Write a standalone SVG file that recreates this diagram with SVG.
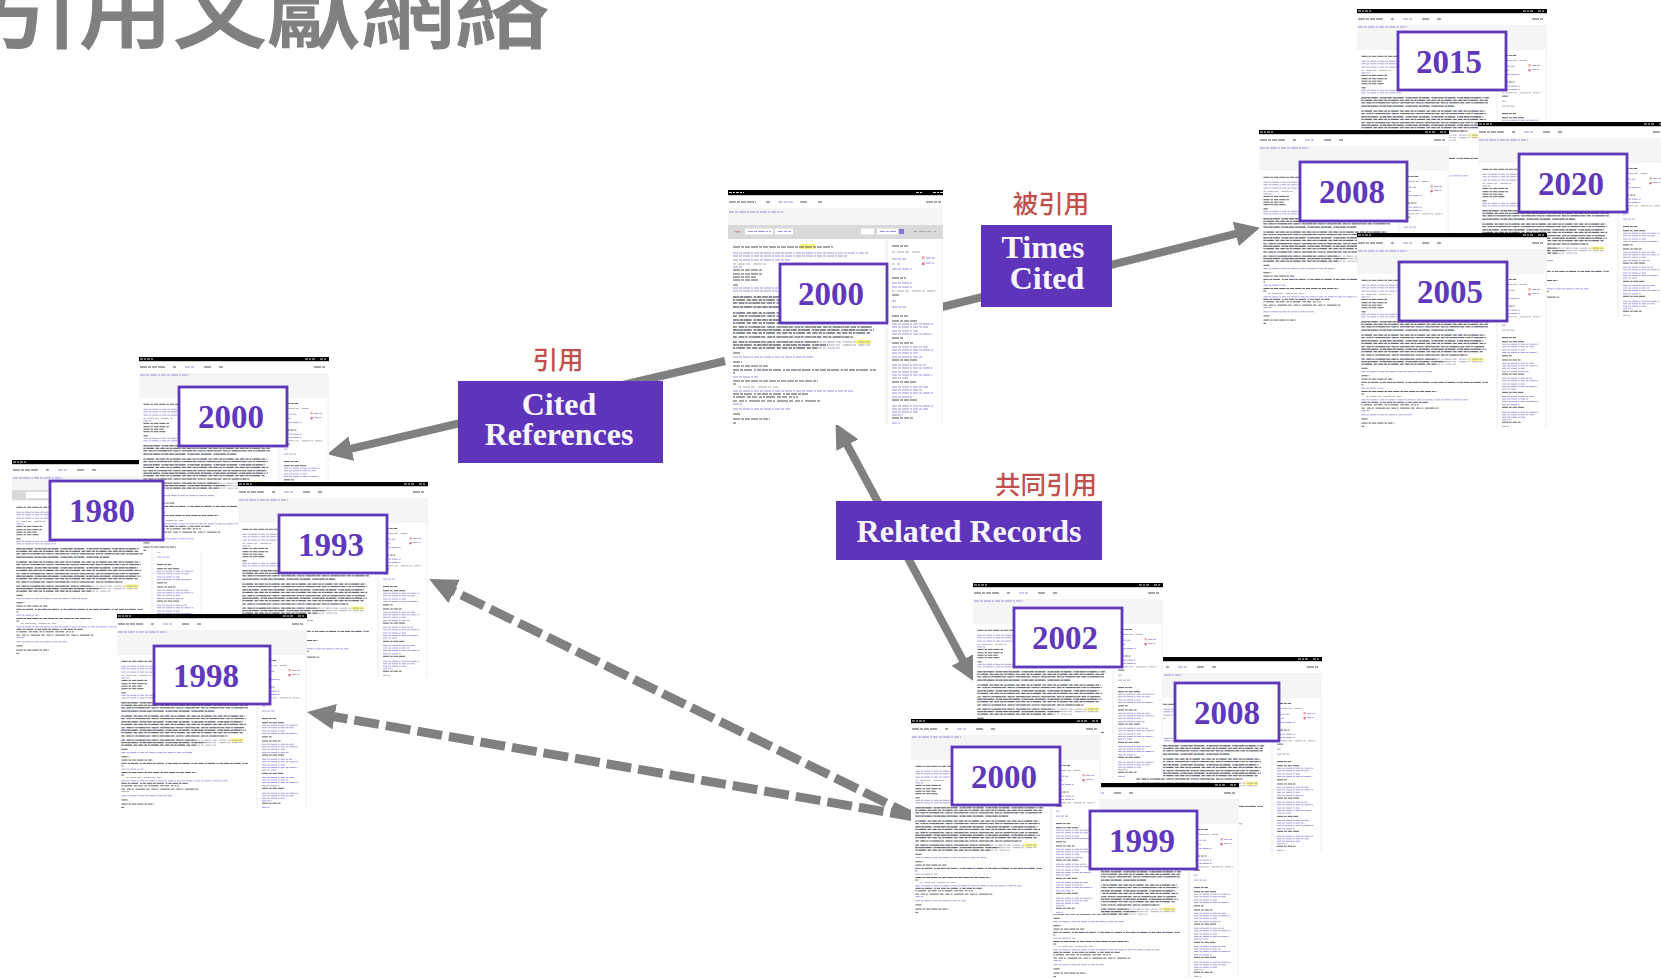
<svg xmlns="http://www.w3.org/2000/svg" xmlns:xlink="http://www.w3.org/1999/xlink" width="1661" height="979" viewBox="0 0 1661 979">
<style>
text{font-family:"Liberation Serif","Noto Sans CJK TC",serif}
.year{font-size:33px;font-weight:700;fill:#6038bb;text-anchor:middle}
.yb{fill:#fff;stroke:#6038bb;stroke-width:2.8}
.tag{fill:#5e34bb}
.tt{font-size:32px;font-weight:700;fill:#f8f6fc;text-anchor:middle}
.red{font-family:"Noto Sans CJK TC","Noto Sans CJK SC",sans-serif;font-size:25.5px;font-weight:500;fill:#c0504d;text-anchor:middle}
.title{font-family:"Noto Sans CJK TC","Noto Sans CJK SC",sans-serif;font-size:94px;font-weight:500;fill:#808080;stroke:#808080;stroke-width:1.2}
.line{fill:none;stroke:#808080;stroke-width:8}
.dash{fill:none;stroke:#808080;stroke-width:9;stroke-dasharray:25 7}
.d1{fill:none;stroke:#3a3a44;stroke-width:.95;stroke-dasharray:6 1 3 1 8 2 2 1 4 1}
.d2{fill:none;stroke:#44444c;stroke-width:.95;stroke-dasharray:2 1 9 2 4 1 5 2 3 1}
.d3{fill:none;stroke:#4c4c50;stroke-width:.95;stroke-dasharray:4 2 5 1 2 2 11 1}
.m{fill:none;stroke:#a4a4b4;stroke-width:.95;stroke-dasharray:3 2 7 1 4 3 9 1}
.o{fill:none;stroke:#c8a878;stroke-width:.8;stroke-dasharray:2 13 1 21}
.b{fill:none;stroke:#7f9fd8;stroke-width:.8;stroke-dasharray:3 9 2 17}
.p{fill:none;stroke:#9a88d8;stroke-width:.95;stroke-dasharray:5 1 3 1 7 1 2 1}
.k{fill:none;stroke:#555;stroke-width:1.05;stroke-dasharray:7 1 3 1 5 1}
.w{fill:none;stroke:#ddd;stroke-width:1;stroke-dasharray:3 1 2 1}
.soft{filter:url(#soft)}
</style>
<defs>
<filter id="soft" x="-2%" y="-2%" width="104%" height="104%"><feGaussianBlur stdDeviation="0.35"/></filter>
<marker id="head" markerUnits="userSpaceOnUse" markerWidth="26" markerHeight="26" refX="12" refY="13" orient="auto-start-reverse" viewBox="0 0 26 26"><path d="M0 0.500L25 13L0 25.500Z" fill="#808080"/></marker>
<marker id="headd" markerUnits="userSpaceOnUse" markerWidth="28" markerHeight="28" refX="14" refY="14" orient="auto" viewBox="0 0 28 28"><path d="M0 1L28 14L0 27Z" fill="#808080"/></marker>
<g id="content">
<rect x="157" y="50" width="3" height="185" fill="#f6f6f6"/>
<rect x="213" y="50" width="2" height="185" fill="#f6f6f6"/>
<rect x="72" y="54" width="15" height="5" fill="#fdf67a"/>
<rect x="128" y="150" width="15" height="4" fill="#fdf67a"/>
<rect x="194" y="66.500" width="2.500" height="2.500" fill="#ec9a8e"/>
<rect x="194" y="72.500" width="2.500" height="2.500" fill="#e0607a"/>
<path class="k" d="M5 57H105M5 80H35M5 84H35M5 87H28M5 90H30M5 95H10M5 163H12M5 172H14M5 176H40M5 191H90M5 194H8M5 224H12M5 229H42M5 233H8M164 56H180M164 88H178M164 105H172M164 126H180M164 131H190M164 148H175M164 153H185M164 170H190M164 192H188M164 210H190M164 228H185"/>
<path class="p" d="M5 63H140M5 66H120M5 70H62M5 77H14M5 98H50M5 101H50M5 167H85M5 187H30M5 201H125M5 214H14M5 219H62M164 69H178M164 79H185M164 93H185M164 97H185M164 111H168M164 117H178M164 134H205M164 137H200M164 141H190M164 144H204M164 157H200M164 160H205M164 163H190M164 167H195M164 175H198M164 178H205M164 182H190M164 185H204M164 188H180M164 197H200M164 200H195M164 203H205M164 207H185M164 216H205M164 219H200M164 222H190M164 225H175M164 233H172M198 68H208M198 73H206"/>
<path class="m" d="M5 107H150M5 110H148M5 113H148M5 117H110M5 123H145M5 126H146M5 130H143M5 133H146M5 137H145M5 140H146M5 143H142M5 147H125M5 152H142M5 155H142M5 158H115M10 197H50M5 74H40M164 62H192M164 74H172M164 101H208"/>
<path class="d1" d="M5 107H150M5 117H110M5 130H143M5 140H146M5 155H100M5 180H148M5 204H80"/>
<path class="d2" d="M5 110H148M5 123H145M5 133H146M5 143H142M5 158H90M5 183H8M5 207H70"/>
<path class="d3" d="M5 113H148M5 126H146M5 137H145M5 147H125M5 152H90M5 211H92"/>
<path class="o" d="M8 110H148M12 126H146M6 137H145M10 147H125M7 155H142"/>
<path class="b" d="M7 113H148M11 123H145M9 140H146M6 152H128M12 117H110M7 180H148"/>
</g>
<g id="thumb">
<rect width="190" height="195" fill="#fff"/>
<rect y="16" width="190" height="25" fill="#f5f5f5"/>
<rect width="190" height="4.200" fill="#000"/>
<path class="w" d="M1 2H14M166 2H176M181 2H188"/>
<path class="k" d="M1 10H26M34 10H37M65 10H72M80 10H84M175 10H187"/>
<path class="p" d="M46 10H56M1 18H50"/>
<use xlink:href="#content" href="#content" transform="scale(.884 .83)"/>
</g>
</defs>

<text class="title" id="title" x="-15" y="41">引用文獻網絡</text>

<g id="connectors">
<path class="line" d="M725 361L339.7 451.3" marker-end="url(#head)"/>
<path class="line" d="M942 307L1247.4 230.9" marker-end="url(#head)"/>
<path class="line" d="M841.7 434.6L968.3 670.4" marker-start="url(#head)" marker-end="url(#head)"/>
<path class="dash" d="M915 817L441.6 585.2" marker-end="url(#headd)"/>
<path class="dash" d="M915 817L320.8 714.4" marker-end="url(#headd)"/>
</g>

<g id="center-2000">
<g class="soft" transform="translate(728 190)">
<rect width="215" height="235" fill="#fff"/>
<rect y="18" width="215" height="17" fill="#f5f5f5"/>
<rect y="35" width="215" height="14" fill="#d9d9d9"/>
<rect x="17" y="38.500" width="28" height="6" fill="#fff"/>
<rect x="47" y="38.500" width="18" height="6" fill="#fff"/>
<rect x="133" y="38.500" width="13" height="6" fill="#fff"/>
<rect x="149" y="38.500" width="21" height="6" fill="#fff"/>
<rect x="171" y="39" width="5" height="5" fill="#8a6fe0"/>
<rect x="7" y="41" width="5" height="1.500" fill="#c99"/>
<rect width="215" height="5.200" fill="#000"/>
<path class="w" d="M1 2.500H16M188 2.500H195M205 2.500H215"/>
<path class="k" d="M1 12H28M38 12H42M72 12H80M90 12H94M198 12H213"/>
<path class="p" d="M50 12H65M1 22H55M20 41.500H43M50 41.500H63M152 41.500H168"/>
<path class="m" d="M186 41.500H208"/>
<use xlink:href="#content" href="#content"/>
</g>
<rect class="yb" x="780" y="264" width="107" height="59"/>
<text class="year" x="831" y="305">2000</text>
</g>

<g id="times-cited"><rect class="tag" x="981" y="225" width="131" height="82"/><text class="tt" x="1043" y="258">Times</text><text class="tt" x="1047" y="289">Cited</text></g>
<text class="red" id="label-times-cited" x="1051" y="213">被引用</text>
<g id="cited-references"><rect class="tag" x="458" y="381" width="205" height="82"/><text class="tt" x="559" y="415">Cited</text><text class="tt" x="559" y="445">References</text></g>
<text class="red" id="label-cited" x="558" y="369">引用</text>
<g id="related-records"><rect class="tag" x="836" y="501" width="266" height="59"/><text class="tt" x="969" y="542">Related Records</text></g>
<text class="red" id="label-related" x="1046" y="494">共同引用</text>

<g id="ref-thumbs">
<g id="t1980" class="soft" transform="translate(12 460)"><use xlink:href="#thumb" href="#thumb"/><rect y="30" width="190" height="10" fill="#d9d9d9"/><rect x="14" y="32" width="25" height="6" fill="#fff"/></g>
<g id="t2000a" class="soft" transform="translate(139 357)"><use xlink:href="#thumb" href="#thumb"/></g>
<g id="t1993" class="soft" transform="translate(238 482)"><use xlink:href="#thumb" href="#thumb"/></g>
<g id="t1998" class="soft" transform="translate(117 614)"><use xlink:href="#thumb" href="#thumb"/></g>
</g>
<g id="y2000a"><rect class="yb" x="179" y="387" width="108" height="59"/><text class="year" x="231" y="428">2000</text></g>
<g id="y1980"><rect class="yb" x="50" y="481" width="113" height="59"/><text class="year" x="102" y="522">1980</text></g>
<g id="y1993"><rect class="yb" x="279" y="515" width="108" height="58"/><text class="year" x="331" y="556">1993</text></g>
<g id="y1998"><rect class="yb" x="154" y="646" width="116" height="58"/><text class="year" x="206" y="687">1998</text></g>

<g id="cite-thumbs">
<g id="t2015" class="soft" transform="translate(1357 9)"><use xlink:href="#thumb" href="#thumb"/></g>
<g id="t2008a" class="soft" transform="translate(1259 130)"><use xlink:href="#thumb" href="#thumb"/></g>
<g id="t2020" class="soft" transform="translate(1478 122)"><use xlink:href="#thumb" href="#thumb"/></g>
<g id="t2005" class="soft" transform="translate(1357 233)"><use xlink:href="#thumb" href="#thumb"/></g>
</g>
<g id="y2015"><rect class="yb" x="1398" y="32" width="108" height="58"/><text class="year" x="1449" y="73">2015</text></g>
<g id="y2008a"><rect class="yb" x="1300" y="162" width="107" height="59"/><text class="year" x="1352" y="203">2008</text></g>
<g id="y2020"><rect class="yb" x="1519" y="154" width="108" height="58"/><text class="year" x="1571" y="195">2020</text></g>
<g id="y2005"><rect class="yb" x="1399" y="262" width="108" height="59"/><text class="year" x="1450" y="303">2005</text></g>

<g id="related-thumbs">
<g id="t2008b" class="soft" transform="translate(1132 657)"><use xlink:href="#thumb" href="#thumb"/></g>
<g id="t2002" class="soft" transform="translate(973 583)"><use xlink:href="#thumb" href="#thumb"/></g>
<g id="t1999" class="soft" transform="translate(1049 783)"><use xlink:href="#thumb" href="#thumb"/></g>
<g id="t2000b" class="soft" transform="translate(911 719)"><use xlink:href="#thumb" href="#thumb"/></g>
</g>
<g id="y2002"><rect class="yb" x="1014" y="608" width="108" height="59"/><text class="year" x="1065" y="649">2002</text></g>
<g id="y2008b"><rect class="yb" x="1175" y="683" width="104" height="58"/><text class="year" x="1227" y="724">2008</text></g>
<g id="y2000b"><rect class="yb" x="952" y="747" width="108" height="58"/><text class="year" x="1004" y="788">2000</text></g>
<g id="y1999"><rect class="yb" x="1090" y="811" width="107" height="58"/><text class="year" x="1142" y="852">1999</text></g>
</svg>
